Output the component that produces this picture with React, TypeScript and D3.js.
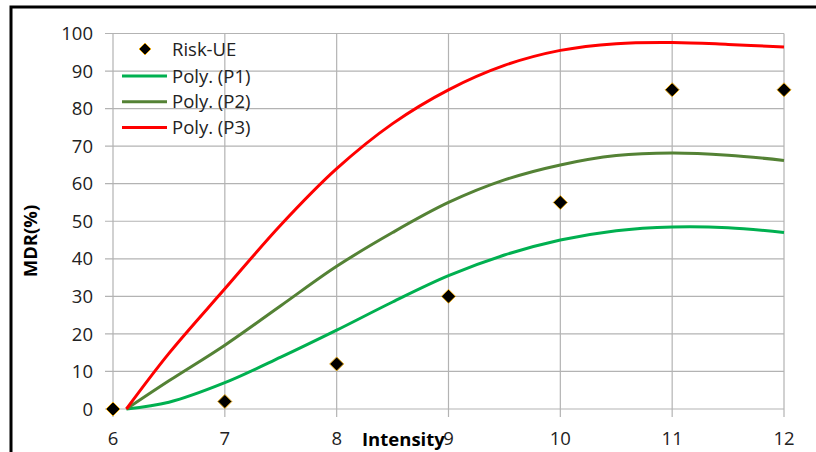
import React from "react";
import * as d3 from "d3";

const width = 816;
const height = 452;

// Risk-UE observed points
const riskX = [6, 7, 8, 9, 10, 11, 12];
const riskY = [0, 2, 12, 30, 55, 85, 85];

// polynomial fits
const polyX = [6.12, 6.5, 7, 7.5, 8, 8.5, 9, 9.5, 10, 10.5, 11, 11.5, 12];
const p1 = [0, 1.8, 7, 13.8, 21, 28.5, 35.5, 41, 45, 47.5, 48.5, 48.3, 47];
const p2 = [0, 7.5, 17, 27.5, 38, 47, 55, 61, 65, 67.5, 68.2, 67.6, 66.2];
const p3 = [0, 14.8, 32, 49, 64, 76, 85, 91.5, 95.5, 97.3, 97.6, 97.1, 96.4];

const xTicks = [6, 7, 8, 9, 10, 11, 12];
const yTicks = [0, 10, 20, 30, 40, 50, 60, 70, 80, 90, 100];

const seriesNames = ["Poly. (P1)", "Poly. (P2)", "Poly. (P3)"];
const seriesColors = ["#00B050", "#548235", "#FF0000"];

const font = "'Open Sans', sans-serif";

export default function App() {
  const x = d3.scaleLinear().domain([6, 12]).range([113, 784]);
  const y = d3.scaleLinear().domain([0, 100]).range([409, 33.5]);

  const line = d3
    .line<number>()
    .curve(d3.curveCatmullRom.alpha(0.5))
    .x((d, i) => x(polyX[i]))
    .y((d) => y(d));

  const series = [p1, p2, p3];

  const diamond = (cx: number, cy: number, r: number) =>
    `M${cx},${cy - r}L${cx + r},${cy}L${cx},${cy + r}L${cx - r},${cy}Z`;

  return (
    <svg
      width={width}
      height={height}
      style={{ position: "fixed", left: 0, top: 0, background: "#fff" }}
    >
      {/* frame */}
      <path d={`M11,452V7H816`} fill="none" stroke="#000" strokeWidth={3} />

      {/* grid */}
      <g stroke="#B3B3B3" strokeWidth={1.2}>
        {yTicks.map((t) => (
          <line key={"h" + t} x1={105} x2={x(12)} y1={y(t)} y2={y(t)} />
        ))}
        {xTicks.map((t) => (
          <line key={"v" + t} x1={x(t)} x2={x(t)} y1={y(100)} y2={y(0) + 8} />
        ))}
      </g>

      {/* tick labels */}
      <g fontFamily={font} fontSize={18.5} fill="#222">
        {yTicks.map((t) => (
          <text key={"yl" + t} x={93} y={y(t)} dy="0.36em" textAnchor="end">
            {t}
          </text>
        ))}
        {xTicks.map((t) => (
          <text key={"xl" + t} x={x(t)} y={445} textAnchor="middle">
            {t}
          </text>
        ))}
      </g>

      {/* axis titles */}
      <text
        x={362}
        y={446}
        fontFamily={font}
        fontSize={18.5}
        fontWeight="bold"
        fill="#000"
      >
        Intensity
      </text>
      <text
        transform="translate(37,241) rotate(-90)"
        textAnchor="middle"
        fontFamily={font}
        fontSize={18.5}
        fontWeight="bold"
        fill="#000"
      >
        MDR(%)
      </text>

      {/* fitted curves */}
      {series.map((s, i) => (
        <path
          key={seriesNames[i]}
          d={line(s) || ""}
          fill="none"
          stroke={seriesColors[i]}
          strokeWidth={3}
        />
      ))}

      {/* observed points */}
      {riskX.map((v, i) => (
        <path
          key={"pt" + v}
          d={diamond(x(v), y(riskY[i]), 7)}
          fill="#000"
          stroke="#E6A817"
          strokeWidth={1}
        />
      ))}

      {/* legend */}
      <g fontFamily={font} fontSize={18.5} fill="#222">
        <path d={diamond(145, 49, 6)} fill="#000" stroke="#E6A817" strokeWidth={1} />
        <text x={172} y={49} dy="0.36em">
          Risk-UE
        </text>
        {seriesNames.map((n, i) => (
          <g key={"lg" + n}>
            <line
              x1={122}
              x2={167}
              y1={76 + i * 25.7}
              y2={76 + i * 25.7}
              stroke={seriesColors[i]}
              strokeWidth={3}
            />
            <text x={172} y={76 + i * 25.7} dy="0.36em">
              {n}
            </text>
          </g>
        ))}
      </g>
    </svg>
  );
}
